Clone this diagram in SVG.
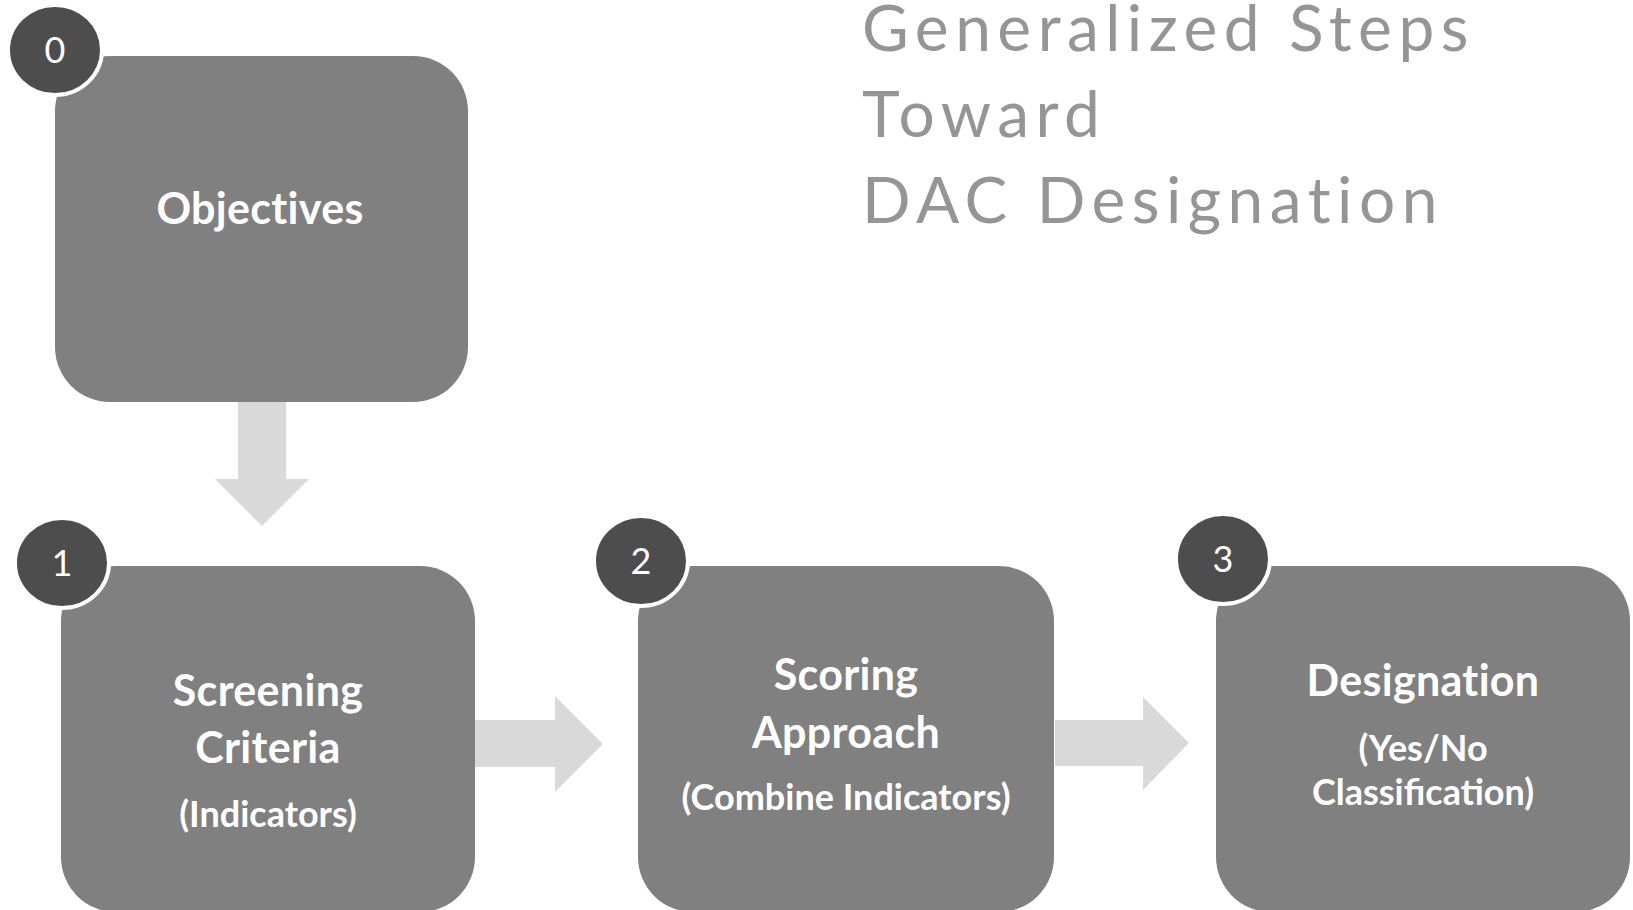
<svg xmlns="http://www.w3.org/2000/svg" width="1633" height="910" viewBox="0 0 1633 910">
<style>
.box{fill:#808080}
.badge{fill:#4d4d4d;stroke:#ffffff;stroke-width:4}
.num{fill:#ffffff;font-family:Lato,"Open Sans",sans-serif;font-size:36px;text-anchor:middle}
.lbl{fill:#ffffff;font-family:Lato,"Open Sans",sans-serif;font-weight:bold;font-size:43px;text-anchor:middle;letter-spacing:0.3px}
.sub{fill:#ffffff;font-family:Lato,"Open Sans",sans-serif;font-weight:bold;font-size:36px;text-anchor:middle}
.title{fill:#959595;font-family:Lato,"Open Sans",sans-serif;font-weight:400;font-size:64px;letter-spacing:6.5px}
.arrow{fill:#d9d9d9}
</style>
<rect width="1633" height="910" fill="#ffffff"/>
<g id="title">
<text class="title" x="862" y="51">Generalized Steps</text>
<text class="title" x="862" y="137">Toward</text>
<text class="title" x="862" y="223">DAC Designation</text>
</g>
<g id="connectors">
<polygon class="arrow" points="238,400 286,400 286,479 309,479 262,526 215,479 238,479"/>
<polygon class="arrow" points="475,720 555,720 555,696 603,744 555,792 555,767 475,767"/>
<polygon class="arrow" points="1055,720 1143,720 1143,697 1189,743 1143,790 1143,766 1055,766"/>
</g>
<g id="node0">
<rect class="box" x="55" y="56" width="413" height="346" rx="55"/>
<ellipse class="badge" cx="55" cy="50" rx="47" ry="45"/>
<text class="num" x="55" y="63">0</text>
<text class="lbl" x="260" y="224">Objectives</text>
</g>
<g id="node1">
<rect class="box" x="61" y="566" width="414" height="346" rx="55"/>
<ellipse class="badge" cx="62" cy="563" rx="47" ry="45"/>
<text class="num" x="62" y="576">1</text>
<text class="lbl" x="268" y="706">Screening</text>
<text class="lbl" x="268" y="763">Criteria</text>
<text class="sub" x="268" y="827">(Indicators)</text>
</g>
<g id="node2">
<rect class="box" x="638" y="566" width="416" height="346" rx="55"/>
<ellipse class="badge" cx="641" cy="561" rx="47" ry="45"/>
<text class="num" x="641" y="574">2</text>
<text class="lbl" x="846" y="690">Scoring</text>
<text class="lbl" x="846" y="748">Approach</text>
<text class="sub" x="846" y="810">(Combine Indicators)</text>
</g>
<g id="node3">
<rect class="box" x="1216" y="566" width="414" height="346" rx="55"/>
<ellipse class="badge" cx="1223" cy="559" rx="47" ry="45"/>
<text class="num" x="1223" y="572">3</text>
<text class="lbl" x="1423" y="696">Designation</text>
<text class="sub" x="1423" y="761">(Yes/No</text>
<text class="sub" x="1423" y="805">Classification)</text>
</g>
</svg>
